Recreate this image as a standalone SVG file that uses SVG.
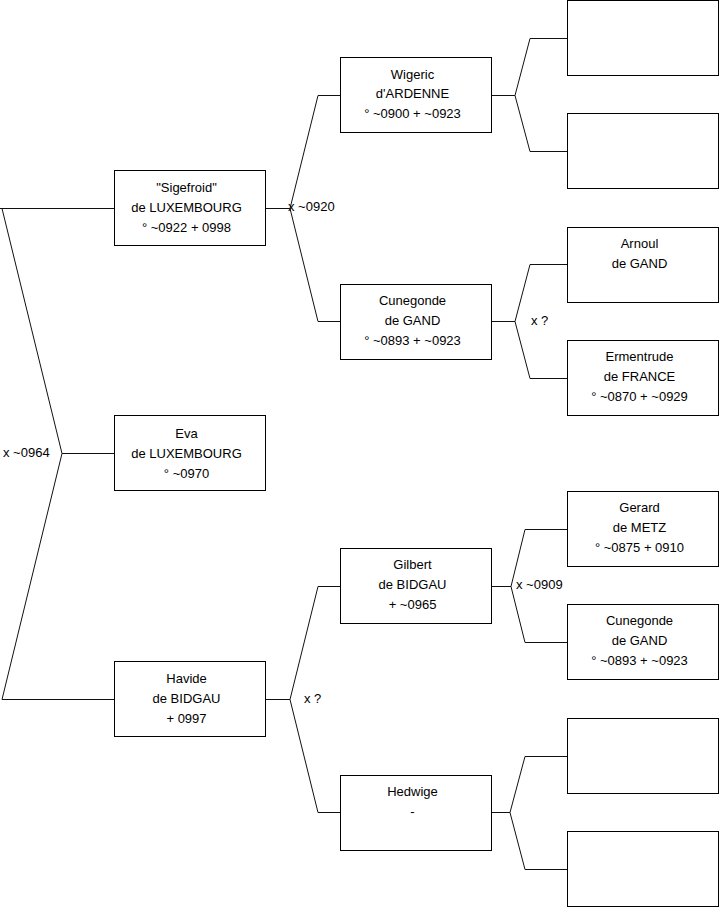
<svg xmlns="http://www.w3.org/2000/svg" width="719" height="908" viewBox="0 0 719 908">
<style>
.b{fill:#fff;stroke:#000;stroke-width:1}
.c{fill:none;stroke:#111;stroke-width:1}
text{font-family:"Liberation Sans",Arial,sans-serif;font-size:13px;fill:#000}
.m{text-anchor:middle}
</style>
<rect width="719" height="908" fill="#fff"/>
<g id="connectors" class="c">
<path d="M0,208.5 H114.5 M2,208.5 L62,453.5 L2,699.5 H114.5 M62,453.5 H114.5"/>
<path d="M265.5,208.5 H290 M340.5,95.5 H318 L290,208.5 L318,321.5 H340.5"/>
<path d="M265.5,699.5 H290 M340.5,586.5 H318 L290,699.5 L318,812.5 H340.5"/>
<path d="M491.5,95.5 H515 M567.5,38.5 H530 L515,95.5 L530,151.5 H567.5"/>
<path d="M491.5,321.5 H515 M567.5,264.5 H530 L515,321.5 L530,378.5 H567.5"/>
<path d="M491.5,586.5 H511 M567.5,529.5 H525 L511,586.5 L525,642.5 H567.5"/>
<path d="M491.5,812.5 H510 M567.5,756.5 H525 L510,812.5 L525,869.5 H567.5"/>
</g>
<g id="labels">
<text x="288" y="211">x ~0920</text>
<text x="3" y="457">x ~0964</text>
<text x="531" y="325">x ?</text>
<text x="516" y="589">x ~0909</text>
<text x="304" y="703">x ?</text>
</g>
<g id="sigefroid"><rect class="b" x="114.5" y="170.5" width="151" height="75"/>
<text class="m" x="186.5" y="192">"Sigefroid"</text><text class="m" x="186.5" y="212">de LUXEMBOURG</text><text class="m" x="186.5" y="232">° ~0922 + 0998</text></g>
<g id="eva"><rect class="b" x="114.5" y="415.5" width="151" height="75"/>
<text class="m" x="186.5" y="438">Eva</text><text class="m" x="186.5" y="458">de LUXEMBOURG</text><text class="m" x="186.5" y="478">° ~0970</text></g>
<g id="havide"><rect class="b" x="114.5" y="661.5" width="151" height="75"/>
<text class="m" x="186.5" y="683">Havide</text><text class="m" x="186.5" y="703">de BIDGAU</text><text class="m" x="186.5" y="723">+ 0997</text></g>
<g id="wigeric"><rect class="b" x="340.5" y="57.5" width="151" height="75"/>
<text class="m" x="412.5" y="78.5">Wigeric</text><text class="m" x="412.5" y="98">d'ARDENNE</text><text class="m" x="412.5" y="118">° ~0900 + ~0923</text></g>
<g id="cunegonde1"><rect class="b" x="340.5" y="284.5" width="151" height="75"/>
<text class="m" x="412.5" y="305">Cunegonde</text><text class="m" x="412.5" y="325">de GAND</text><text class="m" x="412.5" y="345">° ~0893 + ~0923</text></g>
<g id="gilbert"><rect class="b" x="340.5" y="548.5" width="151" height="75"/>
<text class="m" x="412.5" y="569">Gilbert</text><text class="m" x="412.5" y="589">de BIDGAU</text><text class="m" x="412.5" y="609">+ ~0965</text></g>
<g id="hedwige"><rect class="b" x="340.5" y="775.5" width="151" height="75"/>
<text class="m" x="412.5" y="796">Hedwige</text><text class="m" x="412.5" y="816">-</text></g>
<g id="blank1"><rect class="b" x="567.5" y="0.5" width="151" height="75"/></g>
<g id="blank2"><rect class="b" x="567.5" y="113.5" width="151" height="75"/></g>
<g id="arnoul"><rect class="b" x="567.5" y="227.5" width="151" height="75"/>
<text class="m" x="639.5" y="248">Arnoul</text><text class="m" x="639.5" y="268">de GAND</text></g>
<g id="ermentrude"><rect class="b" x="567.5" y="340.5" width="151" height="75"/>
<text class="m" x="639.5" y="361">Ermentrude</text><text class="m" x="639.5" y="381">de FRANCE</text><text class="m" x="639.5" y="401">° ~0870 + ~0929</text></g>
<g id="gerard"><rect class="b" x="567.5" y="491.5" width="151" height="75"/>
<text class="m" x="639.5" y="512">Gerard</text><text class="m" x="639.5" y="532">de METZ</text><text class="m" x="639.5" y="552">° ~0875 + 0910</text></g>
<g id="cunegonde2"><rect class="b" x="567.5" y="604.5" width="151" height="75"/>
<text class="m" x="639.5" y="625">Cunegonde</text><text class="m" x="639.5" y="645">de GAND</text><text class="m" x="639.5" y="665">° ~0893 + ~0923</text></g>
<g id="blank3"><rect class="b" x="567.5" y="718.5" width="151" height="75"/></g>
<g id="blank4"><rect class="b" x="567.5" y="831.5" width="151" height="75"/></g>
</svg>
